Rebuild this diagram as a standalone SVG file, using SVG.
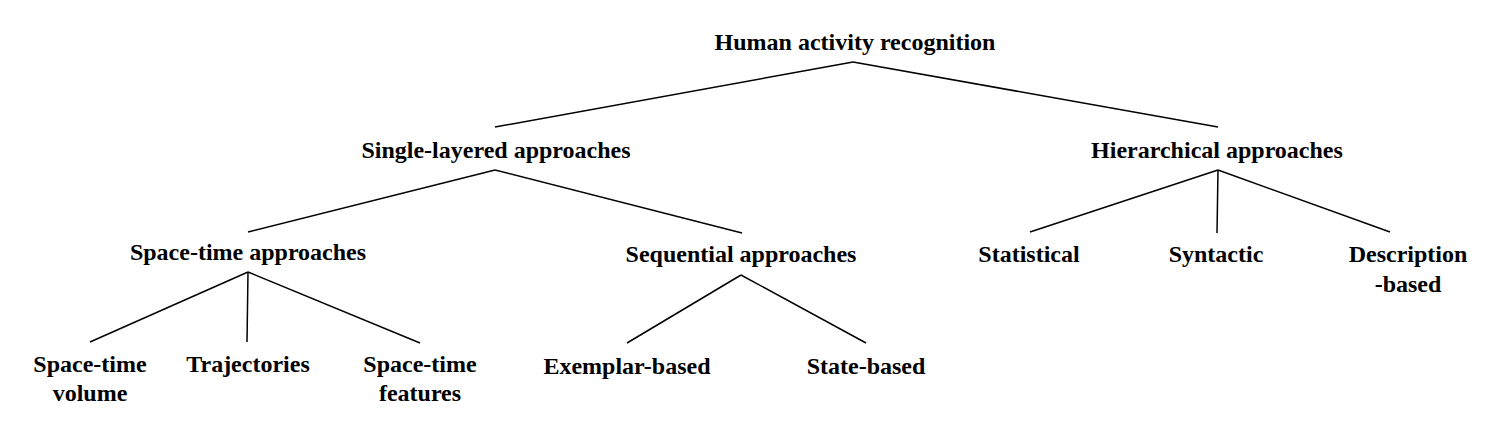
<svg xmlns="http://www.w3.org/2000/svg" width="1490" height="436" viewBox="0 0 1490 436">
<style>
text{font-family:"Liberation Serif","Times New Roman",serif;font-weight:bold;font-size:24px;fill:#000;text-anchor:middle}
.c line{stroke:#000;stroke-width:1.5;fill:none}
</style>
<rect width="1490" height="436" fill="#fff"/>
<g class="c" id="connectors">
<line x1="853" y1="62" x2="495" y2="127"/>
<line x1="853" y1="62" x2="1218" y2="127"/>
<line x1="495" y1="170" x2="248" y2="232"/>
<line x1="495" y1="170" x2="742" y2="233"/>
<line x1="1218" y1="170" x2="1030" y2="232"/>
<line x1="1218" y1="170" x2="1217" y2="233"/>
<line x1="1218" y1="170" x2="1390" y2="232"/>
<line x1="248" y1="272" x2="90" y2="342"/>
<line x1="248" y1="272" x2="247" y2="342"/>
<line x1="248" y1="272" x2="420" y2="343"/>
<line x1="741" y1="275" x2="627" y2="343"/>
<line x1="741" y1="275" x2="866" y2="343"/>
</g>
<g id="n-root"><text x="855" y="50">Human activity recognition</text></g>
<g id="n-single"><text x="496" y="158">Single-layered approaches</text></g>
<g id="n-hier"><text x="1217" y="158">Hierarchical approaches</text></g>
<g id="n-spacetime"><text x="248" y="260">Space-time approaches</text></g>
<g id="n-sequential"><text x="741" y="262">Sequential approaches</text></g>
<g id="n-statistical"><text x="1029" y="262">Statistical</text></g>
<g id="n-syntactic"><text x="1216" y="262">Syntactic</text></g>
<g id="n-description"><text x="1408" y="262">Description</text><text x="1408" y="292">-based</text></g>
<g id="n-stvolume"><text x="90" y="372">Space-time</text><text x="90" y="401">volume</text></g>
<g id="n-trajectories"><text x="248" y="372">Trajectories</text></g>
<g id="n-stfeatures"><text x="420" y="372">Space-time</text><text x="420" y="401">features</text></g>
<g id="n-exemplar"><text x="627" y="374">Exemplar-based</text></g>
<g id="n-state"><text x="866" y="374">State-based</text></g>
</svg>
